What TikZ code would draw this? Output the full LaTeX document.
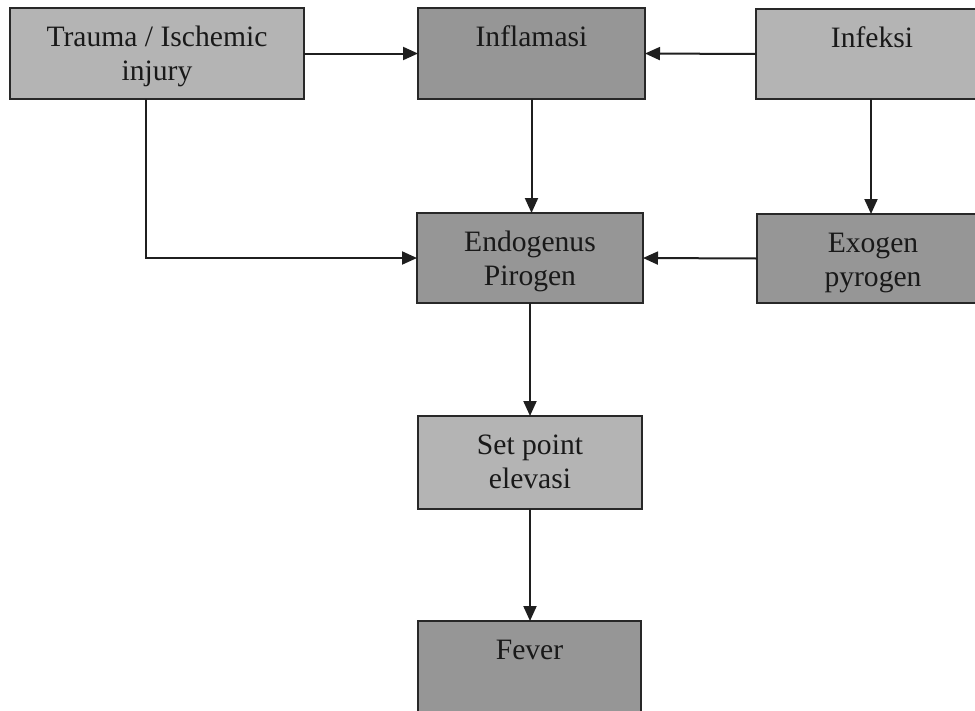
\documentclass[tikz,border=0pt]{standalone}
\usepackage{fontspec}
\setmainfont{Liberation Serif}
\usetikzlibrary{arrows.meta}
\definecolor{lightbox}{RGB}{180,180,180}
\definecolor{darkbox}{RGB}{150,150,150}
\definecolor{edgecol}{RGB}{40,40,40}
\definecolor{txtcol}{RGB}{25,25,25}
\newcommand{\boxtxt}[3]{\parbox[c][#2pt][t]{#1pt}{\centering\fontsize{29.6}{34}\selectfont\color{txtcol}\rule{0pt}{38.5pt}#3}}
\tikzset{
  fbox/.style={draw=edgecol, line width=2.4pt, inner sep=0pt, outer sep=0pt, anchor=north west},
  lightfill/.style={fbox, fill=lightbox},
  darkfill/.style={fbox, fill=darkbox},
  conn/.style={draw=black!88, line width=2pt, -{Triangle[length=15pt,width=13pt]}}
}
\begin{document}
\begin{tikzpicture}[x=1pt,y=-1pt]
\useasboundingbox (0,0) rectangle (975,710);
\fill[white] (0,0) rectangle (975,710);
\node[lightfill] (trauma) at (10,8) {\boxtxt{294}{91}{Trauma / Ischemic\\injury}};
\node[darkfill] (infl) at (418,8) {\boxtxt{227}{91}{Inflamasi}};
\node[lightfill] (infek) at (756,9) {\boxtxt{232}{90}{Infeksi}};
\node[darkfill] (endo) at (417,213) {\boxtxt{226}{90}{Endogenus\\Pirogen}};
\node[darkfill] (exo) at (757,214) {\boxtxt{232}{89}{Exogen\\pyrogen}};
\node[lightfill] (setp) at (418,416) {\boxtxt{224}{93}{Set point\\elevasi}};
\node[darkfill] (fever) at (418,621) {\boxtxt{223}{100}{Fever}};
\draw[conn] (trauma.east) -- (infl.west);
\draw[conn] (infek.west) -- (infl.east);
\draw[conn] (infl.south) -- (infl.south |- endo.north);
\draw[conn] ([xshift=-1pt]infek.south) -- ([xshift=-1pt]infek.south |- exo.north);
\draw[conn] ([xshift=-11pt]trauma.south) |- (endo.west);
\draw[conn] (exo.west) -- (endo.east);
\draw[conn] (endo.south) -- (setp.north);
\draw[conn] (setp.south) -- (setp.south |- fever.north);
\end{tikzpicture}
\end{document}
